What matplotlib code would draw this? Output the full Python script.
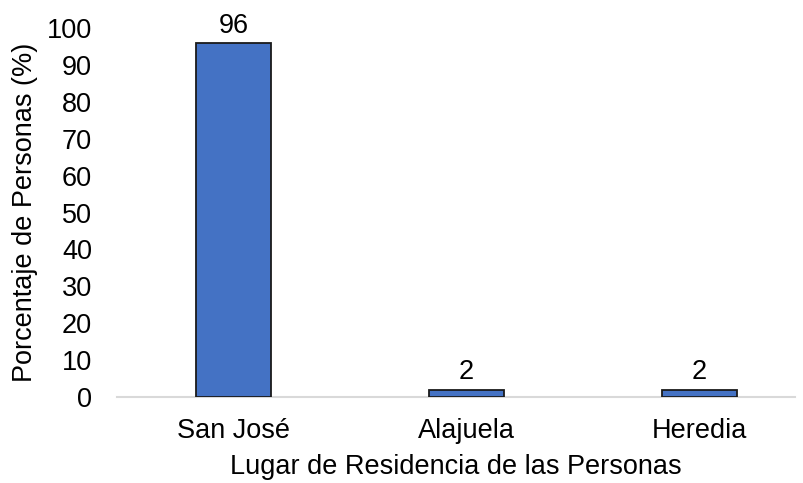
import matplotlib.pyplot as plt

lugares = ['San José', 'Alajuela', 'Heredia']
porcentajes = [96, 2, 2]
yticks = list(range(0, 101, 10))

plt.rcParams['font.family'] = ['Liberation Sans', 'DejaVu Sans']

fig = plt.figure(figsize=(8.04, 4.83), dpi=100)
ax = fig.add_axes([0.1455, 0.178, 0.989 - 0.1455, 0.942 - 0.178])

x = list(range(len(lugares)))
bars = ax.bar(x, porcentajes, width=0.32, color='#4472C4',
              edgecolor='#1a1a1a', linewidth=1.3, zorder=3)

# Etiquetas de valores encima de las barras
for b, v in zip(bars, porcentajes):
    ax.annotate(f'{v}', (b.get_x() + b.get_width() / 2, v),
                xytext=(0, 3), textcoords='offset points',
                ha='center', va='bottom', fontsize=19.5)

ax.set_xlim(-0.5, 2.41)
ax.set_ylim(0, 100)
ax.set_yticks(yticks)
ax.set_xticks(x)
ax.set_xticklabels(lugares)
ax.tick_params(axis='both', length=0, labelsize=19.5)
ax.tick_params(axis='x', pad=15)
ax.tick_params(axis='y', pad=18)

for s in ['top', 'right', 'left']:
    ax.spines[s].set_visible(False)
ax.spines['bottom'].set_color('#D9D9D9')
ax.spines['bottom'].set_linewidth(1.5)

ax.set_xlabel('Lugar de Residencia de las Personas', fontsize=19.5, labelpad=7)
ax.set_ylabel('Porcentaje de Personas (%)', fontsize=19.5, labelpad=6)

fig.savefig('out.png', dpi=100)
